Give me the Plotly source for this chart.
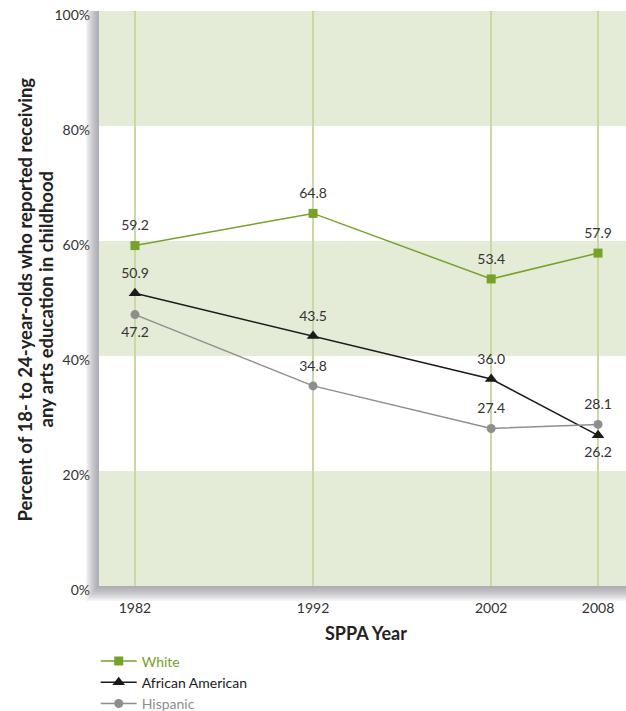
import plotly.graph_objects as go

years = [1982, 1992, 2002, 2008]
white = [59.2, 64.8, 53.4, 57.9]
african_american = [50.9, 43.5, 36.0, 26.2]
hispanic = [47.2, 34.8, 27.4, 28.1]
ytick_vals = [0, 20, 40, 60, 80, 100]
ytick_text = ["0%", "20%", "40%", "60%", "80%", "100%"]

GREEN = "#76a22a"
BLACK = "#1c1a1b"
GRAY = "#8e8e90"
TEXT = "#333333"
BAND = "#e4ecd7"
GRID = "#c8d9a3"
FONT = "Lato"

fig = go.Figure()

series = [
    ("White", white, GREEN, "square", 9,
     ["top center"] * 4),
    ("African American", african_american, BLACK, "triangle-up", 11,
     ["top center", "top center", "top center", "bottom center"]),
    ("Hispanic", hispanic, GRAY, "circle", 9,
     ["bottom center", "top center", "top center", "top center"]),
]

for name, vals, col, sym, size, pos in series:
    fig.add_trace(go.Scatter(
        x=years, y=vals, mode="lines+markers",
        name=f"<span style='color:{col}'>{name}</span>",
        line=dict(color=col, width=1.5),
        marker=dict(symbol=sym, size=size, color=col),
    ))
for name, vals, col, sym, size, pos in series:
    fig.add_trace(go.Scatter(
        x=years, y=vals, mode="markers+text", showlegend=False, hoverinfo="skip",
        marker=dict(size=17, color="rgba(0,0,0,0)"),
        text=[f"{v:.1f}" for v in vals], textposition=pos,
        textfont=dict(family=FONT, size=14, color=TEXT),
    ))

shapes = []
for lo, hi in [(0, 20), (40, 60), (80, 100)]:
    shapes.append(dict(type="rect", xref="paper", yref="y", x0=0, x1=1, y0=lo, y1=hi,
                       fillcolor=BAND, line=dict(width=0), layer="below"))
# soft shadow at left and bottom of the plot panel
n = 10
for i in range(n):
    w = (n - i) * 1.3 / 527
    h = (n - i) * 1.5 / 575
    shapes.append(dict(type="rect", xref="paper", yref="paper", x0=-w, x1=0, y0=0, y1=1,
                       fillcolor="rgba(110,110,125,0.08)", line=dict(width=0), layer="above"))
    shapes.append(dict(type="rect", xref="paper", yref="paper", x0=-w, x1=1, y0=-h, y1=0,
                       fillcolor="rgba(110,110,125,0.08)", line=dict(width=0), layer="above"))

fig.update_layout(
    shapes=shapes,
    width=626, height=711,
    margin=dict(l=99, r=0, t=11, b=125, autoexpand=False),
    paper_bgcolor="white", plot_bgcolor="white",
    font=dict(family=FONT, color=TEXT),
    xaxis=dict(range=[1979.98, 2009.57], tickvals=years, ticktext=[str(y) for y in years],
               showgrid=True, gridcolor=GRID, gridwidth=2, zeroline=False, showline=False,
               ticks="", tickfont=dict(family=FONT, size=14, color=TEXT), ticklabelstandoff=12),
    yaxis=dict(range=[0, 100], tickvals=ytick_vals, ticktext=ytick_text, showgrid=False,
               zeroline=False, showline=False, ticks="", ticklabelshift=4,
               ticklabeloverflow="allow",
               tickfont=dict(family=FONT, size=14, color=TEXT), ticklabelstandoff=8),
    showlegend=True,
    legend=dict(xref="container", yref="container", x=95.7 / 626, y=1 - 645.5 / 711,
                xanchor="left", yanchor="top",
                font=dict(family=FONT, size=14, color=TEXT),
                bgcolor="rgba(0,0,0,0)", tracegroupgap=0, itemwidth=36),
    annotations=[
        dict(text="Percent of 18- to 24-year-olds who reported receiving",
             xref="paper", yref="paper", x=(24 - 99) / 527, y=(586 - 299.5) / 575,
             xanchor="center", yanchor="middle",
             textangle=-90, showarrow=False,
             font=dict(family=FONT, size=18.5, color="#222222", weight="bold")),
        dict(text="any arts education in childhood",
             xref="paper", yref="paper", x=(45 - 99) / 527, y=(586 - 299.5) / 575,
             xanchor="center", yanchor="middle",
             textangle=-90, showarrow=False,
             font=dict(family=FONT, size=18.5, color="#222222", weight="bold")),
        dict(text="<b>SPPA Year</b>", xref="paper", yref="paper", x=(366 - 99) / 527,
             y=(586 - 633) / 575, xanchor="center", yanchor="middle", showarrow=False,
             font=dict(family=FONT, size=18, color="#222222")),
    ],
)

fig.write_html("out.html", config={"displayModeBar": False},
               post_script="document.body.style.margin='0';document.body.style.overflow='hidden';")
